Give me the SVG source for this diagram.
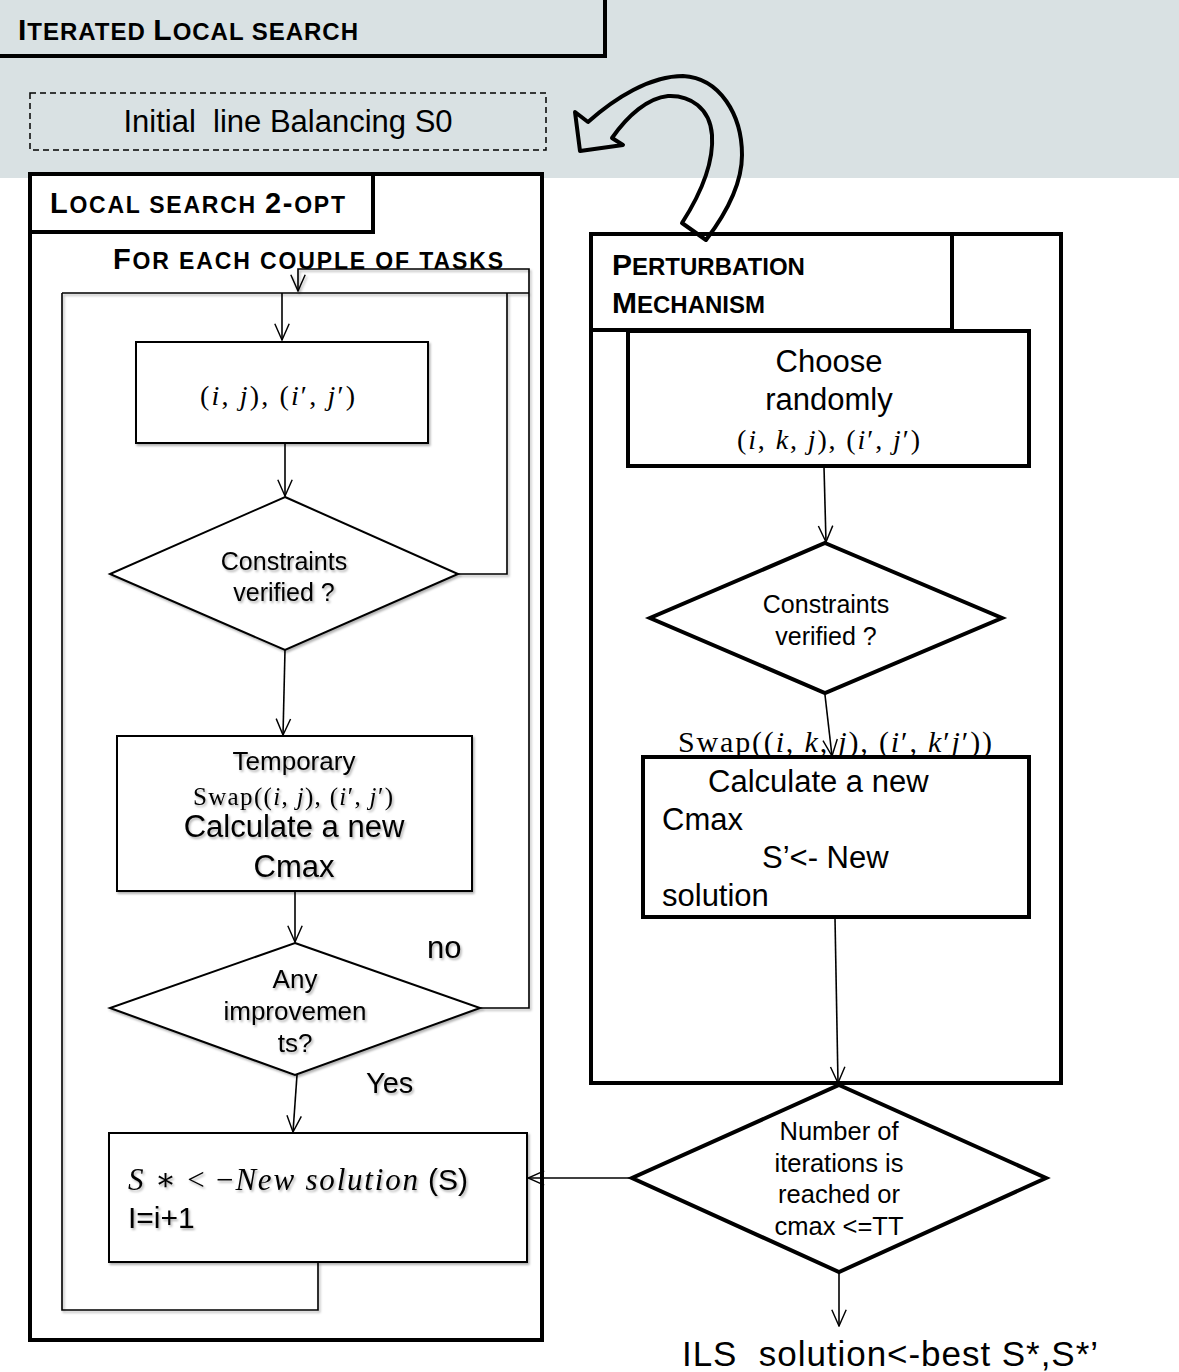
<svg xmlns="http://www.w3.org/2000/svg" width="1179" height="1372" viewBox="0 0 1179 1372">
<defs>
<marker id="ah" viewBox="0 0 20 20" refX="19" refY="10" markerWidth="18" markerHeight="18" markerUnits="userSpaceOnUse" orient="auto">
<path d="M1,2 L19,10 L1,18" fill="none" stroke="#000" stroke-width="1.6"/>
</marker>
<filter id="sh" filterUnits="userSpaceOnUse" x="0" y="0" width="1179" height="1372">
<feDropShadow dx="1.5" dy="2" stdDeviation="1.2" flood-color="#000" flood-opacity="0.3"/>
</filter>
</defs>
<style>
.sans{font-family:"Liberation Sans",Arial,sans-serif;fill:#000}
.b{font-weight:bold}
.math{font-family:"Liberation Serif","DejaVu Serif",serif;fill:#000}
.it{font-style:italic}
.thick{fill:#fff;stroke:#000;stroke-width:4}
.thin{fill:#fff;stroke:#000;stroke-width:2}
.conn{fill:none;stroke:#000;stroke-width:1.6}
.mid{text-anchor:middle}
</style>

<!-- background band -->
<rect x="0" y="0" width="1179" height="178" fill="#d9e1e3"/>

<g id="ils-header">
<path d="M-3,56 H605 V-3" fill="none" stroke="#000" stroke-width="4"/>
<text x="18" y="40" class="sans b" textLength="340" lengthAdjust="spacing"><tspan font-size="30">I</tspan><tspan font-size="24">TERATED </tspan><tspan font-size="30">L</tspan><tspan font-size="24">OCAL SEARCH</tspan></text>
</g>

<g id="initial">
<rect x="30" y="93" width="516" height="57" fill="none" stroke="#000" stroke-width="1.5" stroke-dasharray="6 4"/>
<text x="288" y="132" class="sans mid" font-size="31" xml:space="preserve">Initial  line Balancing S0</text>
</g>

<g id="local-search">
<rect x="30" y="174" width="512" height="1166" class="thick" stroke-width="4.5"/>
<rect x="30" y="174" width="343" height="58" class="thick"/>
<text x="50" y="213" class="sans b" textLength="295" lengthAdjust="spacing"><tspan font-size="29">L</tspan><tspan font-size="23">OCAL SEARCH </tspan><tspan font-size="29">2-</tspan><tspan font-size="23">OPT</tspan></text>
<text x="113" y="269" class="sans b" textLength="390" lengthAdjust="spacing"><tspan font-size="29">F</tspan><tspan font-size="23">OR EACH COUPLE OF TASKS</tspan></text>
</g>

<g id="perturbation">
<rect x="591" y="234" width="470" height="849" class="thick" stroke-width="4.5"/>
<rect x="591" y="234" width="361" height="96" class="thick"/>
<text x="612" y="275" class="sans b"><tspan font-size="30">P</tspan><tspan font-size="24">ERTURBATION</tspan></text>
<text x="612" y="313" class="sans b"><tspan font-size="30">M</tspan><tspan font-size="24">ECHANISM</tspan></text>
</g>

<g id="connectors">
<g filter="url(#sh)">
<path class="conn" d="M62,293 H529"/>
<path class="conn" d="M480,1008 H529 V269 H298 V291" marker-end="url(#ah)"/>
<path class="conn" d="M458,574 H507 V293"/>
<path class="conn" d="M318,1262 V1310 H62 V293"/>
</g>
<path class="conn" d="M282,293 V340" stroke-width="2.6" marker-end="url(#ah)"/>
<path class="conn" d="M285,443 V496" marker-end="url(#ah)"/>
<path class="conn" d="M285,650 L283,735" marker-end="url(#ah)"/>
<path class="conn" d="M295,891 V942" marker-end="url(#ah)"/>
<path class="conn" d="M297,1075 L293,1132" marker-end="url(#ah)"/>
<path class="conn" d="M824,467 L826,542" marker-end="url(#ah)"/>
<path class="conn" d="M825,695 L832,756" marker-end="url(#ah)"/>
<path class="conn" d="M835,918 L838,1083" marker-end="url(#ah)"/>
<path class="conn" d="M632,1178 H528" marker-end="url(#ah)"/>
<path class="conn" d="M839,1272 V1326" marker-end="url(#ah)"/>
<path d="M580,151 L575,112 L588,122 C615,98 650,76 683,76 C720,78 742,115 742,155 C742,185 725,215 706,240 L682,223 C700,195 714,165 712,135 C710,108 690,95 668,96 C648,98 628,115 612,138 L623,145 Z" fill="none" stroke="#000" stroke-width="4" stroke-linejoin="round"/>
</g>

<g id="pair">
<rect x="136" y="342" width="292" height="101" class="thin" filter="url(#sh)"/>
<text x="200" y="405" class="math" font-size="28" textLength="155" lengthAdjust="spacing">(<tspan class="it">i</tspan>, <tspan class="it">j</tspan>), (<tspan class="it">i</tspan>′, <tspan class="it">j</tspan>′)</text>
</g>

<g id="constraints-left">
<polygon points="285,497 458,574 285,650 110,574" class="thin" filter="url(#sh)"/>
<g filter="url(#sh)">
<text x="284" y="570" class="sans mid" font-size="25">Constraints</text>
<text x="284" y="601" class="sans mid" font-size="25">verified ?</text>
</g>
</g>

<g id="temporary">
<rect x="117" y="736" width="355" height="155" class="thin" filter="url(#sh)"/>
<g filter="url(#sh)">
<text x="294" y="770" class="sans mid" font-size="26">Temporary</text>
<text x="193" y="805" class="math" font-size="25" textLength="200" lengthAdjust="spacing">Swap((<tspan class="it">i</tspan>, <tspan class="it">j</tspan>), (<tspan class="it">i</tspan>′, <tspan class="it">j</tspan>′)</text>
<text x="294" y="837" class="sans mid" font-size="31">Calculate a new</text>
<text x="294" y="877" class="sans mid" font-size="31">Cmax</text>
</g>
</g>

<g id="improvement">
<polygon points="295,943 480,1008 295,1075 110,1008" class="thin" filter="url(#sh)"/>
<g filter="url(#sh)">
<text x="295" y="988" class="sans mid" font-size="26">Any</text>
<text x="295" y="1020" class="sans mid" font-size="26">improvemen</text>
<text x="295" y="1052" class="sans mid" font-size="26">ts?</text>
<text x="427" y="958" class="sans" font-size="31">no</text>
<text x="366" y="1093" class="sans" font-size="29">Yes</text>
</g>
</g>

<g id="new-solution">
<rect x="109" y="1133" width="418" height="129" class="thin" filter="url(#sh)"/>
<g filter="url(#sh)">
<text x="128" y="1190" class="math" font-size="31" textLength="290" lengthAdjust="spacing"><tspan class="it">S</tspan> ∗ &lt; −<tspan class="it">New  solution</tspan></text>
<text x="428" y="1190" class="sans" font-size="30">(S)</text>
<text x="128" y="1228" class="sans" font-size="30">I=i+1</text>
</g>
</g>

<g id="choose">
<rect x="628" y="331" width="401" height="135" class="thick"/>
<text x="829" y="372" class="sans mid" font-size="31">Choose</text>
<text x="829" y="410" class="sans mid" font-size="31">randomly</text>
<text x="737" y="449" class="math" font-size="28" textLength="183" lengthAdjust="spacing">(<tspan class="it">i</tspan>, <tspan class="it">k</tspan>, <tspan class="it">j</tspan>), (<tspan class="it">i</tspan>′, <tspan class="it">j</tspan>′)</text>
</g>

<g id="constraints-right">
<polygon points="825,543 1002,618 825,693 650,618" class="thick"/>
<text x="826" y="613" class="sans mid" font-size="25">Constraints</text>
<text x="826" y="645" class="sans mid" font-size="25">verified ?</text>
</g>

<g id="calculate">
<text x="678" y="752" class="math" font-size="30" textLength="314" lengthAdjust="spacing">Swap((<tspan class="it">i</tspan>, <tspan class="it">k</tspan>, <tspan class="it">j</tspan>), (<tspan class="it">i</tspan>′, <tspan class="it">k</tspan>′<tspan class="it">j</tspan>′))</text>
<rect x="643" y="757" width="386" height="160" fill="none" stroke="#000" stroke-width="4"/>
<text x="708" y="792" class="sans" font-size="31">Calculate a new</text>
<text x="662" y="830" class="sans" font-size="31">Cmax</text>
<text x="762" y="868" class="sans" font-size="31">S’&lt;- New</text>
<text x="662" y="906" class="sans" font-size="31">solution</text>
</g>

<g id="stop-test">
<polygon points="839,1085 1046,1178 839,1272 632,1178" class="thick"/>
<text x="839" y="1140" class="sans mid" font-size="25.5">Number of</text>
<text x="839" y="1172" class="sans mid" font-size="25.5">iterations is</text>
<text x="839" y="1203" class="sans mid" font-size="25.5">reached or</text>
<text x="839" y="1235" class="sans mid" font-size="25.5">cmax &lt;=TT</text>
</g>

<g id="result">
<text x="682" y="1366" class="sans" font-size="35" textLength="416" lengthAdjust="spacing" xml:space="preserve">ILS  solution&lt;-best S*,S*’</text>
</g>
</svg>
